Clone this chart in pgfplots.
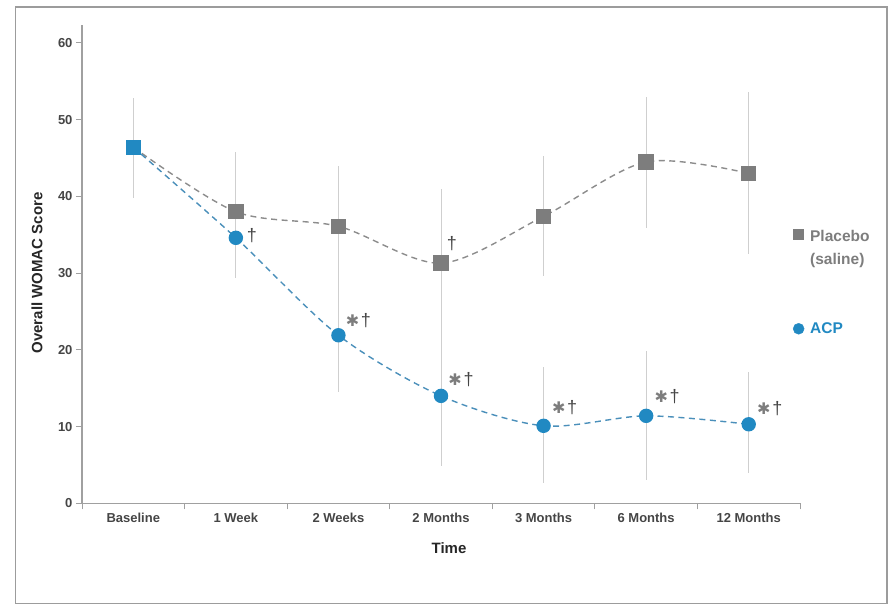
\documentclass[border=0pt]{standalone}
\usepackage{pgfplots}
\usepackage{pgfplotstable}
\pgfplotsset{compat=1.18}
\usepackage{fontspec}
\setmainfont{Liberation Sans}
\newfontfamily\symfont{DejaVu Sans}
\definecolor{placebogray}{HTML}{7D7D7D}
\definecolor{placeboline}{HTML}{8C8C8C}
\definecolor{acpblue}{HTML}{2189C2}
\definecolor{acpline}{HTML}{4A8FBA}
\definecolor{errgray}{HTML}{CFCFCF}
\definecolor{axgray}{HTML}{A0A0A0}
\definecolor{txtgray}{HTML}{454545}
\definecolor{framegray}{HTML}{9C9C9C}

\pgfplotstableread{
x y ep em
0 46.4 6.3 6.6
1 38.0 7.8 8.0
2 36.1 7.9 7.9
3 31.3 9.6 9.6
4 37.4 7.9 7.8
5 44.5 8.5 8.6
6 43.0 10.6 10.5
}\placebo

\pgfplotstableread{
x y ep em
0 46.4 6.4 6.4
1 34.6 5.2 5.2
2 21.9 7.4 7.4
3 14.0 9.0 9.1
4 10.1 7.6 7.4
5 11.4 8.5 8.4
6 10.3 6.8 6.4
}\acp

\newcommand{\sigast}{{\symfont\color{placebogray}\fontsize{16}{16}\selectfont ✱}}
\newcommand{\sigdag}{{\color{txtgray}\fontsize{18}{18}\selectfont †}}

\begin{document}
\begin{tikzpicture}[x=1pt,y=1pt]
\useasboundingbox (0,0) rectangle (891,606);
\draw[framegray, line width=1.5pt] (15.5,2.5) rectangle (887,599);

\begin{axis}[
  at={(82pt,102.7pt)}, anchor=south west,
  scale only axis, width=718pt, height=478pt,
  xmin=-0.5, xmax=6.5, ymin=0, ymax=62.3,
  axis x line*=bottom, axis y line*=left,
  axis line style={draw=axgray, line width=1.3pt},
  xtick={0,...,6},
  xticklabels={Baseline,1 Week,2 Weeks,2 Months,3 Months,6 Months,12 Months},
  major x tick style={draw=none},
  minor xtick={-0.5,0.5,...,6.5},
  ytick={0,10,...,60},
  tick align=outside,
  major tick length=6pt, minor tick length=6pt,
  tick style={draw=axgray, line width=1pt},
  minor x tick style={draw=axgray, line width=1pt},
  /pgf/number format/assume math mode=true,
  ticklabel style={font=\fontsize{13}{15}\selectfont\bfseries, text=txtgray},
  legend style={at={(axis description cs:0.986,0.591)}, anchor=north west,
    draw=none, fill=none, row sep=76pt,
    font=\fontsize{15.5}{23}\selectfont\bfseries},
  legend cell align=left,
  clip=false,
]
% error bars
\addplot[forget plot, only marks, mark=none,
  error bars/.cd, y dir=both, y explicit, error mark=none,
  error bar style={draw=errgray, line width=1pt, solid}]
  table[x=x, y=y, y error plus=ep, y error minus=em] {\placebo};
\addplot[forget plot, only marks, mark=none,
  error bars/.cd, y dir=both, y explicit, error mark=none,
  error bar style={draw=errgray, line width=1pt, solid}]
  table[x=x, y=y, y error plus=ep, y error minus=em] {\acp};

% placebo
\addplot[forget plot, smooth, tension=0.5, dashed, dash pattern=on 6pt off 4.5pt,
  line width=1.4pt, color=placeboline,
  mark=square*, mark size=7pt,
  mark options={solid, fill=placebogray, draw=placebogray}]
  table[x=x, y=y] {\placebo};
% ACP
\addplot[forget plot, smooth, tension=0.5, dashed, dash pattern=on 6pt off 4.5pt,
  line width=1.4pt, color=acpline,
  mark=*, mark size=6.5pt, mark indices={2,3,4,5,6,7},
  mark options={solid, fill=acpblue, draw=acpblue}]
  table[x=x, y=y] {\acp};
\addplot[forget plot, only marks, mark=square*, mark size=7pt,
  mark options={solid, fill=acpblue, draw=acpblue}]
  coordinates {(0,46.4)};

% legend
\addlegendimage{only marks, mark=square*, mark size=5pt, mark options={fill=placebogray, draw=placebogray}}
\addlegendentry{\hspace*{4pt}\textcolor{placebogray}{\begin{tabular}[t]{@{}l@{}}Placebo\\(saline)\end{tabular}}}
\addlegendimage{only marks, mark=*, mark size=5.5pt, mark options={fill=acpblue, draw=acpblue}}
\addlegendentry{\hspace*{4pt}\textcolor{acpblue}{ACP}}

% significance annotations
\node[inner sep=0] at (axis cs:1,34.6) [xshift=16pt, yshift=2pt] {\sigdag};
\node[inner sep=0] at (axis cs:3,31.3) [xshift=11pt, yshift=20pt] {\sigdag};
\node[inner sep=0] at (axis cs:2,21.9) [xshift=20pt, yshift=15pt] {\sigast\,\sigdag};
\node[inner sep=0] at (axis cs:3,14.0) [xshift=20pt, yshift=16pt] {\sigast\,\sigdag};
\node[inner sep=0] at (axis cs:4,10.1) [xshift=21pt, yshift=18pt] {\sigast\,\sigdag};
\node[inner sep=0] at (axis cs:5,11.4) [xshift=21pt, yshift=19pt] {\sigast\,\sigdag};
\node[inner sep=0] at (axis cs:6,10.3) [xshift=21pt, yshift=16pt] {\sigast\,\sigdag};
\end{axis}

\node[rotate=90, font=\fontsize{15}{17}\selectfont\bfseries, text=black!85] at (37,333) {Overall WOMAC Score};
\node[font=\fontsize{15}{17}\selectfont\bfseries, text=black!85] at (449,58) {Time};
\end{tikzpicture}
\end{document}
